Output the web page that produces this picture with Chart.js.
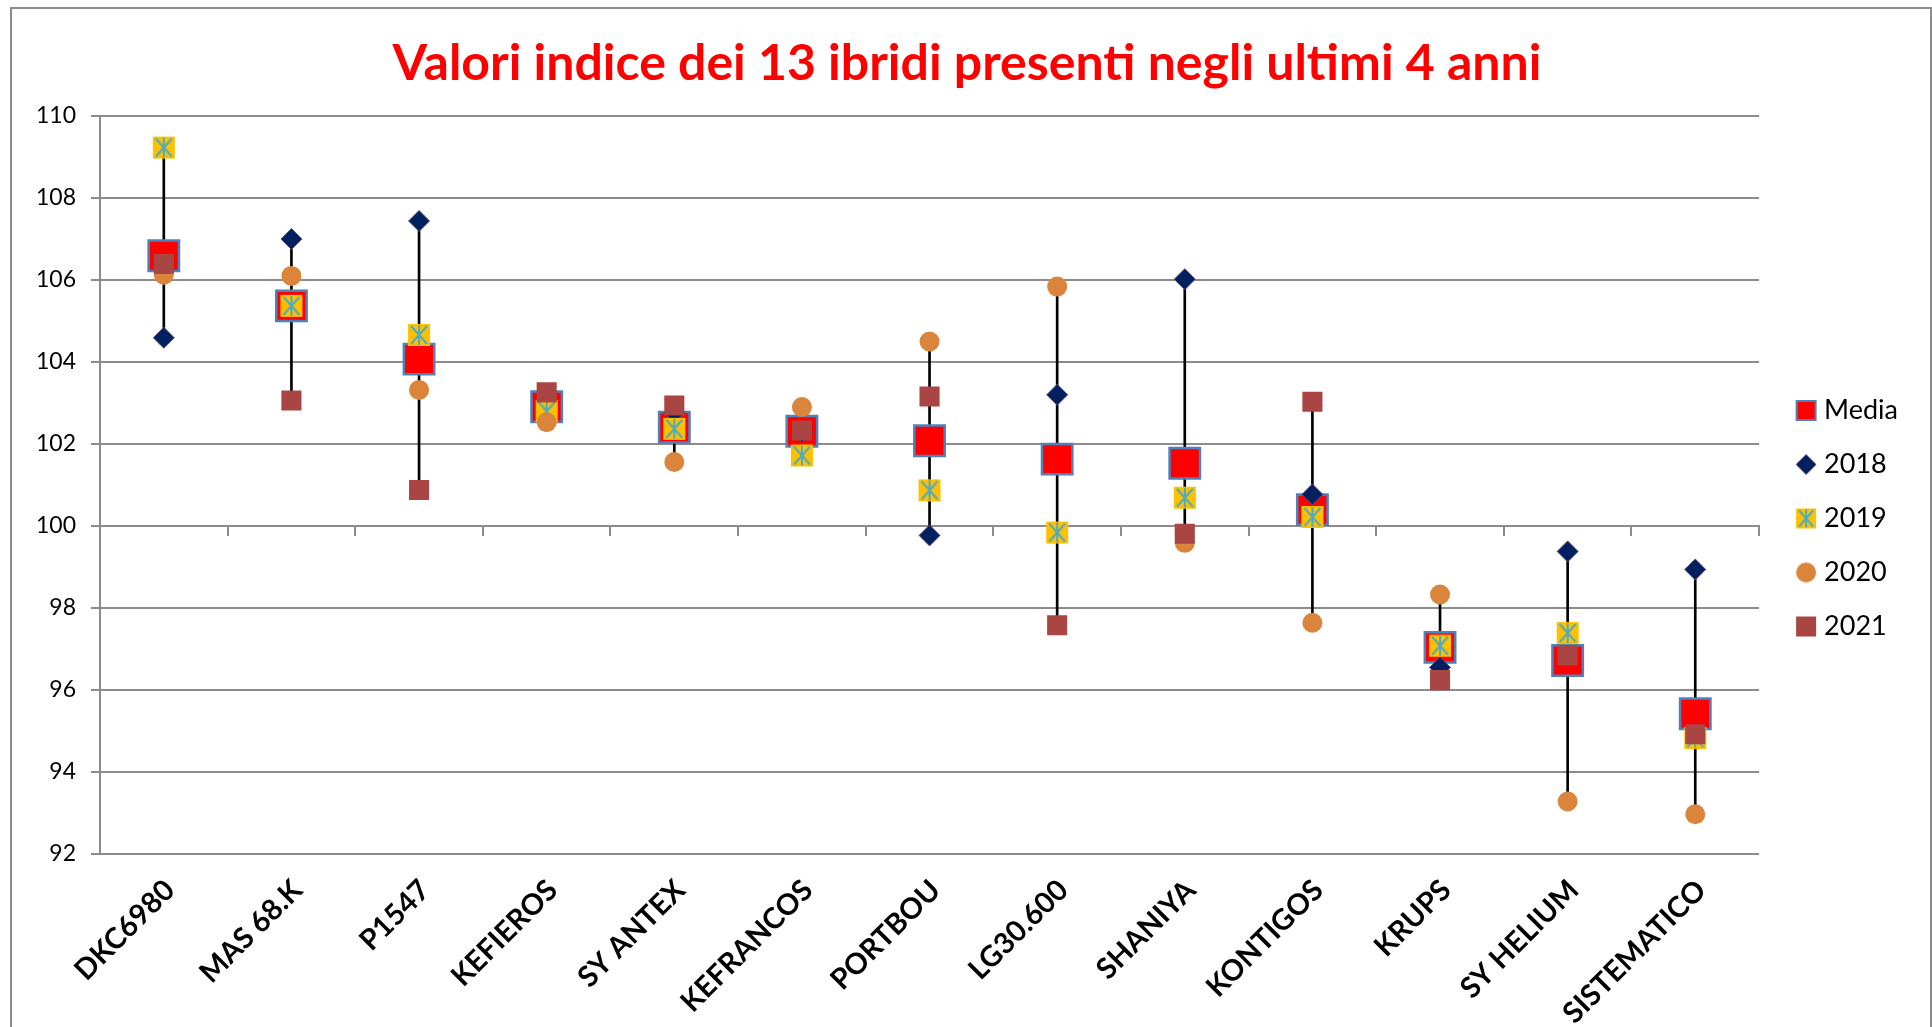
<!DOCTYPE html>
<html>
<head>
<meta charset="utf-8">
<script src="https://cdn.jsdelivr.net/npm/chart.js@4.4.0/dist/chart.umd.min.js"></script>
<style>
  html, body { margin: 0; padding: 0; background: #fff; }
  #wrap { position: relative; width: 1932px; height: 1027px; overflow: hidden; }
  #frame { position: absolute; left: 10px; top: 7px; width: 1922px; height: 1040px; border: 2px solid #8c8c8c; box-sizing: border-box; pointer-events: none; }
  canvas { position: absolute; left: 0; top: 0; }
</style>
</head>
<body>
<div id="wrap">
  <canvas id="chart" width="1932" height="1027"></canvas>
  <div id="frame"></div>
</div>
<script>
// Chart data
const hybrids = ['DKC6980', 'MAS 68.K', 'P1547', 'KEFIEROS', 'SY ANTEX', 'KEFRANCOS', 'PORTBOU',
                 'LG30.600', 'SHANIYA', 'KONTIGOS', 'KRUPS', 'SY HELIUM', 'SISTEMATICO'];
const media = [106.59, 105.37, 104.07, 102.91, 102.41, 102.31, 102.08, 101.63, 101.53, 100.40, 97.04, 96.72, 95.42];
const y2018 = [104.59, 107.00, 107.44, 103.05, 102.77, 102.29, 99.77, 103.20, 106.02, 100.77, 96.55, 99.38, 98.94];
const y2019 = [109.23, 105.37, 104.66, 102.80, 102.37, 101.72, 100.87, 99.84, 100.69, 100.22, 97.08, 97.39, 94.83];
const y2020 = [106.13, 106.10, 103.32, 102.53, 101.56, 102.90, 104.50, 105.84, 99.59, 97.64, 98.33, 93.28, 92.97];
const y2021 = [106.39, 103.06, 100.88, 103.26, 102.94, 102.33, 103.16, 97.58, 99.81, 103.03, 96.24, 96.85, 94.92];
const yTicks = [92, 94, 96, 98, 100, 102, 104, 106, 108, 110];

// high-low line for each hybrid, from the yearly values
const highLow = hybrids.map((_, i) => {
    const v = [y2018[i], y2019[i], y2020[i], y2021[i]];
    return [Math.min(...v), Math.max(...v)];
});

const FONT = 'Lato';

// Marker images (star for 2019 + legend icons)
function marker(kind, s) {
    const c = document.createElement('canvas');
    c.width = s + 4;
    c.height = s + 4;
    const g = c.getContext('2d');
    const m = c.width / 2, h = s / 2;
    if (kind === 'media') {
        g.fillStyle = '#FF0000';
        g.fillRect(m - h, m - h, s, s);
        g.strokeStyle = '#4F81BD';
        g.lineWidth = 2;
        g.strokeRect(m - h, m - h, s, s);
    } else if (kind === 'diamond') {
        g.beginPath();
        g.moveTo(m, m - h); g.lineTo(m + h, m); g.lineTo(m, m + h); g.lineTo(m - h, m);
        g.closePath();
        g.fillStyle = '#002060';
        g.fill();
        g.strokeStyle = '#604A7B';
        g.lineWidth = 1;
        g.stroke();
    } else if (kind === 'star') {
        g.fillStyle = '#FFC000';
        g.fillRect(m - h, m - h, s, s);
        g.strokeStyle = '#4BACC6';
        g.lineWidth = 2;
        g.beginPath();
        g.moveTo(m, m - h + 1); g.lineTo(m, m + h - 1);
        g.moveTo(m - h + 3, m - h + 2); g.lineTo(m + h - 3, m + h - 2);
        g.moveTo(m + h - 3, m - h + 2); g.lineTo(m - h + 3, m + h - 2);
        g.stroke();
    } else if (kind === 'circle') {
        g.beginPath();
        g.ellipse(m, m, h, h, 0, 0, Math.PI * 2);
        g.fillStyle = '#DA843C';
        g.fill();
    } else {
        g.fillStyle = '#A94543';
        g.fillRect(m - h, m - h, s, s);
    }
    return c;
}

const starPoint = marker('star', 22);
const legendIcons = [null, marker('media', 19), marker('diamond', 20), marker('star', 20), marker('circle', 20), marker('square', 20)];

const ctx = document.getElementById('chart');
new Chart(ctx, {
    type: 'line',
    data: {
        labels: hybrids,
        datasets: [{
            type: 'bar',
            label: 'range',
            data: highLow,
            backgroundColor: '#000000',
            barThickness: 2,
            order: 10
        }, {
            label: 'Media',
            data: media,
            showLine: false,
            pointStyle: 'rect',
            pointRadius: 21.5,
            backgroundColor: '#FF0000',
            borderColor: '#4F81BD',
            borderWidth: 2.5,
            order: 5
        }, {
            label: '2018',
            data: y2018,
            showLine: false,
            pointStyle: 'rectRot',
            pointRadius: 10.5,
            backgroundColor: '#002060',
            borderColor: '#604A7B',
            borderWidth: 1,
            order: 4
        }, {
            label: '2019',
            data: y2019,
            showLine: false,
            pointStyle: starPoint,
            backgroundColor: '#FFC000',
            borderColor: '#4BACC6',
            order: 3
        }, {
            label: '2020',
            data: y2020,
            showLine: false,
            pointStyle: 'circle',
            pointRadius: 10,
            backgroundColor: '#DA843C',
            borderColor: '#DA843C',
            borderWidth: 0,
            order: 2
        }, {
            label: '2021',
            data: y2021,
            showLine: false,
            pointStyle: 'rect',
            pointRadius: 14.2,
            backgroundColor: '#A94543',
            borderColor: '#A94543',
            borderWidth: 0,
            order: 1
        }]
    },
    options: {
        responsive: false,
        animation: false,
        events: [],
        layout: { padding: { left: 26, right: 24, top: 10, bottom: 0 } },
        plugins: {
            title: {
                display: true,
                text: 'Valori indice dei 13 ibridi presenti negli ultimi 4 anni',
                color: '#FF0000',
                font: { family: FONT, size: 50, weight: 'bold' },
                padding: { top: 24, bottom: 22 }
            },
            legend: {
                position: 'right',
                align: 'center',
                labels: {
                    usePointStyle: true,
                    boxWidth: 9,
                    boxHeight: 9,
                    padding: 27,
                    color: '#000',
                    font: { family: FONT, size: 27 },
                    filter: item => item.datasetIndex > 0,
                    sort: (a, b) => a.datasetIndex - b.datasetIndex,
                    generateLabels: chart => Chart.defaults.plugins.legend.labels.generateLabels(chart)
                        .map(it => Object.assign(it, { pointStyle: legendIcons[it.datasetIndex] }))
                }
            },
            tooltip: { enabled: false }
        },
        scales: {
            x: {
                type: 'category',
                offset: true,
                position: { y: 100 },
                grid: { drawOnChartArea: false, drawTicks: true, tickLength: 9, color: '#8c8c8c', lineWidth: 2, offset: true },
                border: { display: true, color: '#8c8c8c', width: 2 },
                ticks: { display: false }
            },
            xl: {
                type: 'category',
                offset: true,
                position: 'bottom',
                grid: { display: false },
                border: { display: false },
                ticks: {
                    autoSkip: false, maxRotation: 45, minRotation: 45, padding: 11, labelOffset: 6,
                    color: '#000', font: { family: FONT, size: 29, weight: 'bold' }
                },
                afterFit: s => { s.height = 173; }
            },
            y: {
                min: 92,
                max: 110,
                afterBuildTicks: s => { s.ticks = yTicks.map(v => ({ value: v })); },
                ticks: { padding: 15, color: '#000', font: { family: FONT, size: 23 } },
                grid: { color: '#8c8c8c', lineWidth: 2, tickLength: 9 },
                border: { color: '#8c8c8c', width: 2 },
                afterFit: s => { s.width = 74; }
            },
            gap: {
                type: 'linear',
                position: 'right',
                grid: { display: false },
                border: { display: false },
                ticks: { display: false },
                afterFit: s => { s.width = 15.5; }
            }
        }
    }
});
</script>
</body>
</html>
